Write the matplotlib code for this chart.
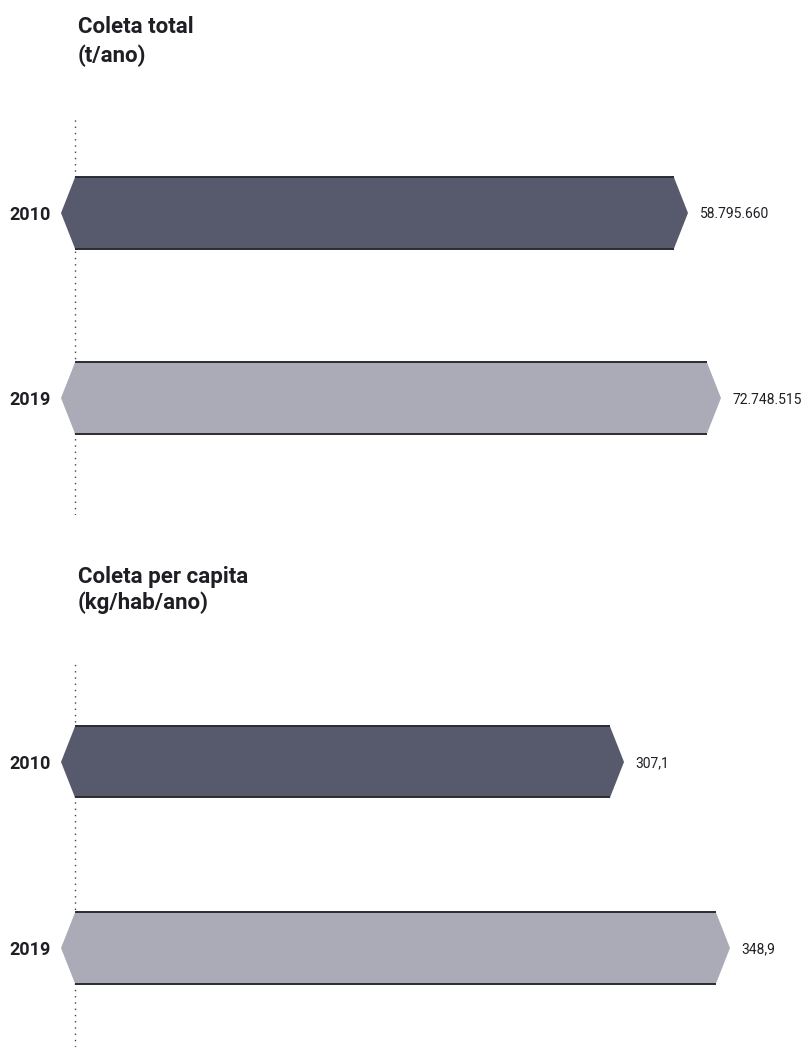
import matplotlib
matplotlib.use("Agg")
import matplotlib.pyplot as plt
from matplotlib.patches import Polygon
import matplotlib.transforms as mtransforms

plt.rcParams['font.family'] = ['Roboto', 'DejaVu Sans']

# ---- data ----
years = ['2010', '2019']
total_values = [58795660, 72748515]
total_labels = ['58.795.660', '72.748.515']
percapita_values = [307.1, 348.9]
percapita_labels = ['307,1', '348,9']

titles = ['Coleta total', 'Coleta per capita']
units = ['(t/ano)', '(kg/hab/ano)']

# ---- style ----
W, H = 806, 1054
bar_colors = ['#57596c', '#aaabb6']
edge_color = '#2b2b33'
text_color = '#1e1e24'

fig = plt.figure(figsize=(W / 100, H / 100), dpi=100)


def draw_panel(rect, values, labels, base, xlim, ylim, height):
    ax = fig.add_axes(rect)
    ax.set_xlim(xlim)
    ax.set_ylim(ylim)
    ax.axis('off')
    tip = 14 * (xlim[1] - xlim[0]) / (W * rect[2])
    ax.axvline(base, color='#444444', lw=1.0, ls=(0, (1, 3.5)), zorder=1)
    ypos = list(range(len(values)))
    ax.barh(ypos, [v - base for v in values], left=base, height=height,
            color=bar_colors, edgecolor='none', zorder=2)
    blend = mtransforms.blended_transform_factory(fig.transFigure, ax.transData)
    for i, (v, lab, yr) in enumerate(zip(values, labels, years)):
        y0, y1 = i - height / 2, i + height / 2
        ax.add_patch(Polygon([(base, y0), (base - tip, i), (base, y1)],
                             closed=True, facecolor=bar_colors[i],
                             edgecolor='none', zorder=2))
        ax.add_patch(Polygon([(v, y0), (v + tip, i), (v, y1)],
                             closed=True, facecolor=bar_colors[i],
                             edgecolor='none', zorder=2))
        ax.hlines([y0, y1], base, v, color=edge_color, lw=1.4, zorder=3)
        ax.annotate(lab, xy=(v + tip, i), xytext=(8.5, 0),
                    textcoords='offset points', ha='left',
                    va='center_baseline', fontsize=10, color=text_color)
        ax.text(51 / W, i, yr, transform=blend, ha='right',
                va='center_baseline', fontsize=13, fontweight='bold',
                color=text_color)
    return ax


# top panel: Coleta total
draw_panel([0, 1 - 515 / H, 1, 400 / H], total_values, total_labels,
           base=-1.9447e8, xlim=(-2.2618e8, 1.1461e8),
           ylim=(1.6324, -0.5297), height=0.384)

# bottom panel: Coleta per capita
draw_panel([0, 1 - 1047 / H, 1, 387 / H], percapita_values, percapita_labels,
           base=96.13, xlim=(66.55, 384.39),
           ylim=(1.532, -0.548), height=0.382)

# titles
for title, unit, (yb1, yb2) in zip(titles, units, [(33, 62), (583, 609)]):
    fig.text(78 / W, 1 - yb1 / H, title, fontsize=16, fontweight='bold',
             color=text_color, va='baseline', ha='left')
    fig.text(78 / W, 1 - yb2 / H, unit, fontsize=16, fontweight='bold',
             color=text_color, va='baseline', ha='left')

fig.savefig('out.png', dpi=100, facecolor='white')
